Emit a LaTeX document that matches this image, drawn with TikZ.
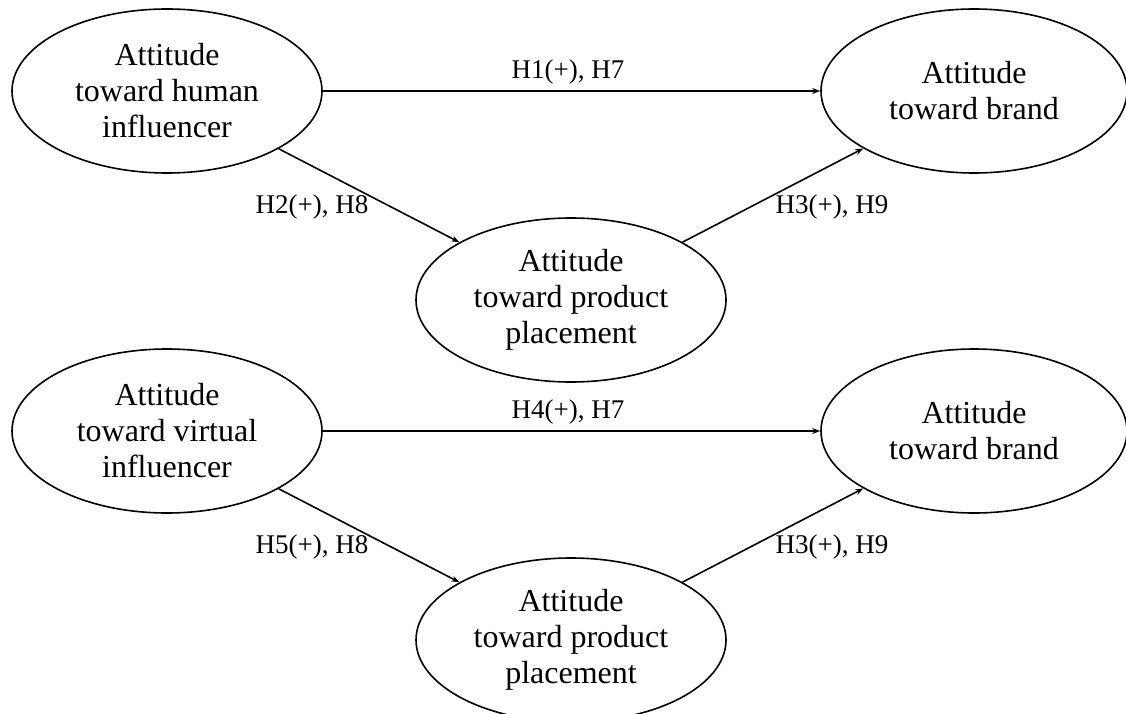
\documentclass[tikz,border=0pt]{standalone}
\usepackage{fontspec}
\setmainfont{Liberation Serif}
\usetikzlibrary{shapes.geometric,arrows.meta}
\begin{document}
\begin{tikzpicture}[x=1pt,y=-1pt,
  ell/.style={draw, line width=1.6pt, ellipse, inner sep=0pt, minimum width=310pt, minimum height=164pt,
    align=center, font=\fontsize{32}{36}\selectfont},
  conn/.style={line width=1.6pt, -{Stealth[length=8pt,width=6pt]}},
  lab/.style={font=\fontsize{27}{30}\selectfont, inner sep=0pt}]
\useasboundingbox (0,0) rectangle (1126,714);
\node[ell] (hA) at (167,91) {Attitude\\toward human\\influencer};
\node[ell, minimum width=306pt] (bA) at (974,91) {Attitude\\toward brand};
\node[ell] (pA) at (571,300) {Attitude\\toward product\\placement};
\node[ell] (hB) at (167,431) {Attitude\\toward virtual\\influencer};
\node[ell, minimum width=306pt] (bB) at (974,431) {Attitude\\toward brand};
\node[ell] (pB) at (571,640) {Attitude\\toward product\\placement};
\draw[conn] (hA) -- (bA);
\draw[conn] (hA) -- (pA);
\draw[conn] (pA) -- (bA);
\draw[conn] (hB) -- (bB);
\draw[conn] (hB) -- (pB);
\draw[conn] (pB) -- (bB);
\node[lab] (l1) at (568,72) {H1(+), H7};
\node[lab] (l2) at (312,207) {H2(+), H8};
\node[lab] (l3) at (832,207) {H3(+), H9};
\node[lab] (l4) at (568,412) {H4(+), H7};
\node[lab] (l5) at (312,547) {H5(+), H8};
\node[lab] (l6) at (832,547) {H3(+), H9};
\end{tikzpicture}
\end{document}
